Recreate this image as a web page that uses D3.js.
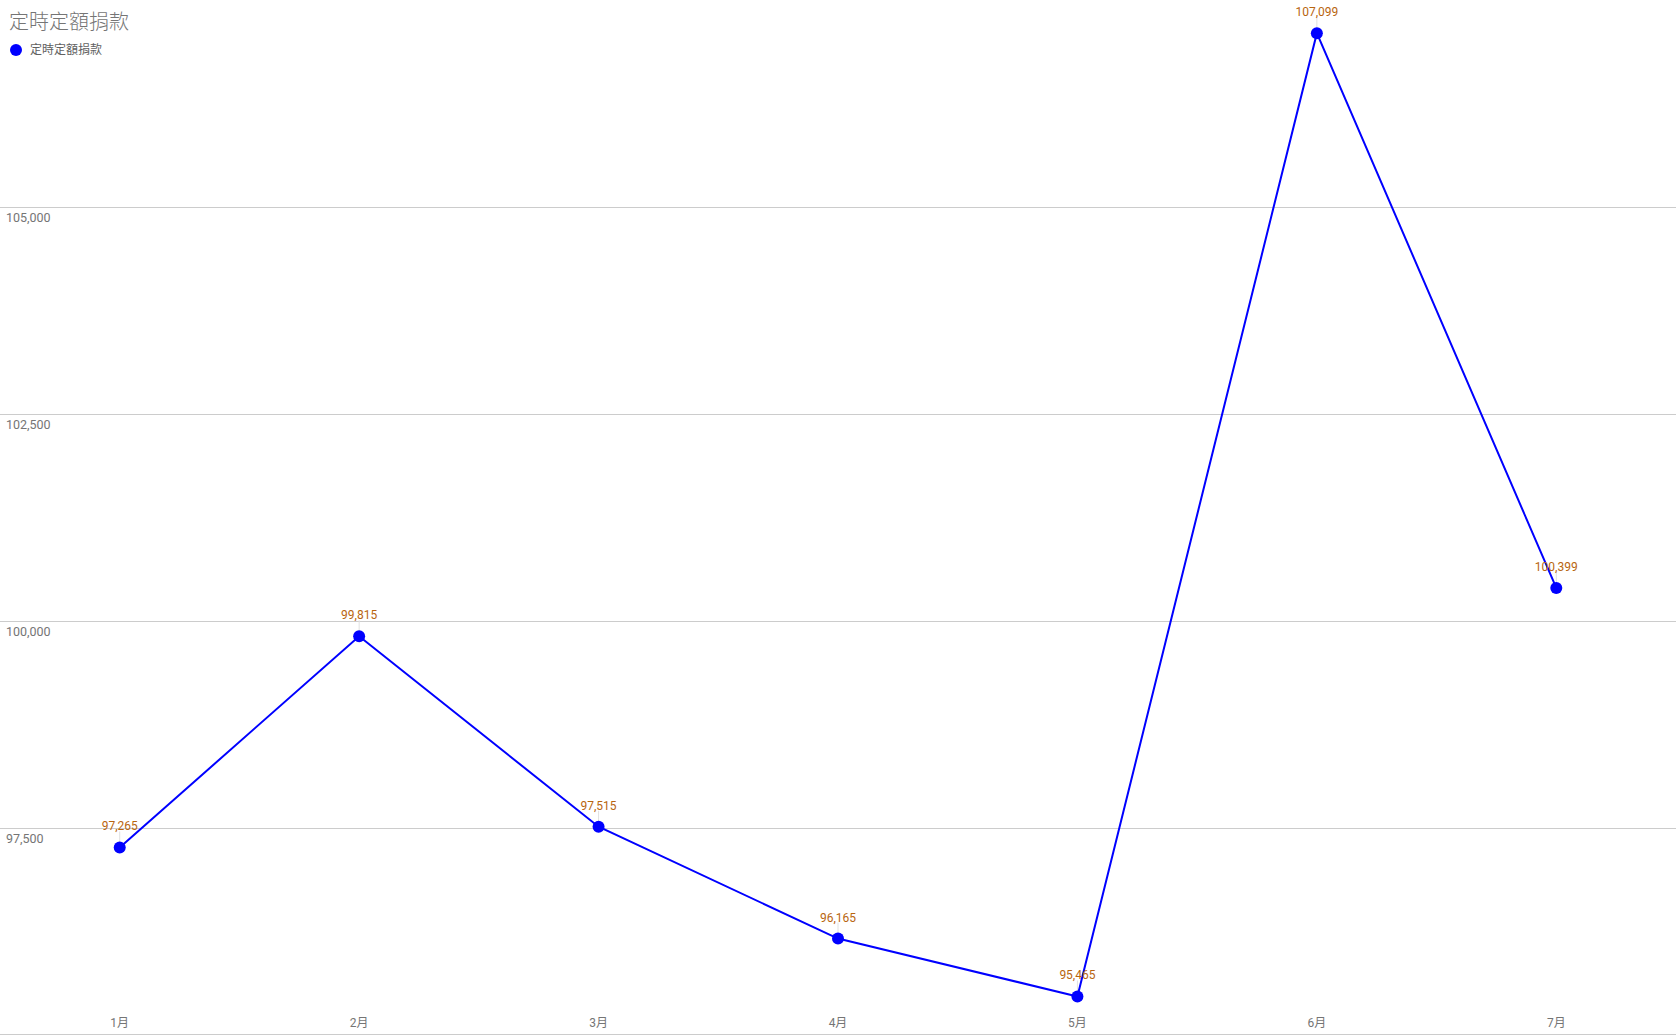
<!DOCTYPE html>
<html><head><meta charset="utf-8">
<script src="https://cdn.jsdelivr.net/npm/d3@7"></script>
<style>
html,body{margin:0;padding:0;background:#fff;overflow:hidden}
text{font-family:Roboto,"Noto Sans CJK TC","Noto Sans",sans-serif}
</style></head>
<body><svg id="chart" width="1676" height="1036"></svg>
<script>
const title = "定時定額捐款";
const seriesName = "定時定額捐款";
const categories = ["1月","2月","3月","4月","5月","6月","7月"];
const values = [97265, 99815, 97515, 96165, 95465, 107099, 100399];
const yTicks = [97500, 100000, 102500, 105000];
const yDomain = [95000, 107500];

const W = 1676, H = 1036;
const svg = d3.select("#chart");
const x = d3.scalePoint().domain(categories).range([0, W]).padding(0.5);
const y = d3.scaleLinear().domain(yDomain).range([1035, 0]);
const fmt = d3.format(",");

// grid
const g = svg.append("g");
g.selectAll("line.grid").data(yTicks).join("line")
  .attr("x1", 0).attr("x2", W)
  .attr("y1", d => Math.round(y(d)) + 0.5).attr("y2", d => Math.round(y(d)) + 0.5)
  .attr("stroke", "#cccccc").attr("stroke-width", 1);
g.selectAll("text.ytick").data(yTicks).join("text")
  .attr("x", 6).attr("y", d => y(d) + 14.5)
  .attr("font-size", 12.5).attr("fill", "#757575")
  .text(d => fmt(d));
// bottom axis line
svg.append("line").attr("x1", 0).attr("x2", W).attr("y1", 1034.5).attr("y2", 1034.5)
  .attr("stroke", "#cccccc").attr("stroke-width", 1);

// x labels
svg.selectAll("text.xl").data(categories).join("text")
  .attr("x", d => x(d)).attr("y", 1027)
  .attr("text-anchor", "middle").attr("font-size", 12).attr("fill", "#757575")
  .text(d => d);

const pts = categories.map((c, i) => ({c, v: values[i]}));

// leader lines
svg.selectAll("line.lead").data(pts).join("line")
  .attr("x1", d => x(d.c)).attr("x2", d => x(d.c))
  .attr("y1", d => y(d.v) - 16).attr("y2", d => y(d.v) - 4)
  .attr("stroke", "#e0e0e0").attr("stroke-width", 1);

// line
svg.append("path").datum(pts)
  .attr("d", d3.line().x(d => x(d.c)).y(d => y(d.v)))
  .attr("fill", "none").attr("stroke", "#0000ff").attr("stroke-width", 2);

svg.selectAll("circle.pt").data(pts).join("circle")
  .attr("cx", d => x(d.c)).attr("cy", d => y(d.v)).attr("r", 6)
  .attr("fill", "#0000ff");

svg.selectAll("text.dl").data(pts).join("text")
  .attr("x", d => x(d.c)).attr("y", d => y(d.v) - 17)
  .attr("text-anchor", "middle").attr("font-size", 12).attr("fill", "#b8650f")
  .text(d => fmt(d.v));

// title & legend
svg.append("text").attr("x", 9).attr("y", 29).attr("font-size", 20)
  .attr("fill", "#757575").attr("font-weight", 300).text(title);
svg.append("circle").attr("cx", 16).attr("cy", 50).attr("r", 6).attr("fill", "#0000ff");
svg.append("text").attr("x", 30).attr("y", 54).attr("font-size", 12)
  .attr("fill", "#616161").text(seriesName);
</script></body></html>
